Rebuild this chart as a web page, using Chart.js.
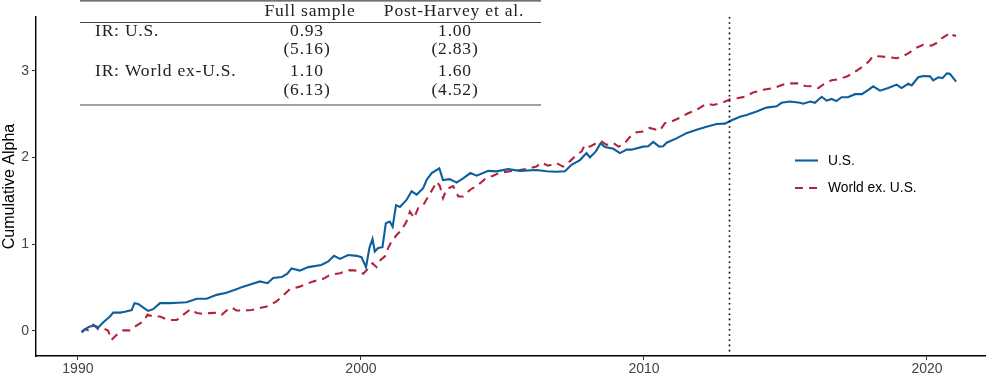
<!DOCTYPE html>
<html><head><meta charset="utf-8">
<script src="https://cdn.jsdelivr.net/npm/chart.js@4.4.1/dist/chart.umd.min.js"></script>
<style>html,body{margin:0;padding:0;background:#fff;overflow:hidden}#wrap{width:1000px;height:374px;position:relative}</style>
</head><body><div id="wrap"><canvas id="c" width="1000" height="374"></canvas></div>
<script>
const usYears=[1990.13,1990.3,1990.42,1990.6,1990.72,1990.9,1991.13,1991.25,1991.5,1991.66,1991.9,1992.0,1992.13,1992.3,1992.48,1992.66,1992.9,1993.25,1993.55,1993.84,1994.2,1994.55,1994.9,1995.25,1995.6,1995.84,1996.14,1996.43,1996.7,1996.9,1997.2,1997.4,1997.55,1997.84,1998.14,1998.6,1998.85,1999.05,1999.26,1999.55,1999.85,2000.02,2000.18,2000.3,2000.41,2000.49,2000.61,2000.76,2000.88,2001.02,2001.12,2001.24,2001.38,2001.61,2001.79,2001.97,2002.2,2002.32,2002.5,2002.77,2002.9,2003.14,2003.38,2003.61,2003.87,2004.09,2004.5,2004.79,2005.2,2005.62,2006.2,2006.56,2006.91,2007.21,2007.44,2007.74,2007.97,2008.09,2008.3,2008.47,2008.62,2008.92,2009.15,2009.39,2009.56,2009.97,2010.15,2010.33,2010.54,2010.68,2010.8,2011.15,2011.5,2011.86,2012.21,2012.57,2012.86,2013.04,2013.39,2013.63,2013.98,2014.33,2014.69,2014.86,2015.16,2015.51,2015.63,2015.87,2016.04,2016.28,2016.45,2016.63,2016.8,2016.98,2017.21,2017.46,2017.7,2017.93,2018.1,2018.34,2018.63,2018.93,2019.1,2019.34,2019.46,2019.69,2019.87,2020.11,2020.22,2020.4,2020.55,2020.7,2020.81,2020.93,2021.03];
const usValues=[-0.02,0.03,0.05,0.06,0.04,0.10,0.165,0.21,0.21,0.22,0.24,0.32,0.31,0.27,0.23,0.25,0.32,0.32,0.325,0.33,0.37,0.37,0.415,0.44,0.48,0.51,0.54,0.57,0.55,0.61,0.62,0.66,0.72,0.695,0.735,0.76,0.80,0.865,0.83,0.875,0.865,0.85,0.735,0.955,1.06,0.915,0.955,0.965,1.24,1.26,1.20,1.45,1.43,1.51,1.61,1.57,1.645,1.74,1.82,1.875,1.74,1.75,1.71,1.76,1.82,1.79,1.845,1.84,1.865,1.845,1.855,1.84,1.835,1.84,1.915,1.97,2.05,2.00,2.07,2.165,2.12,2.10,2.05,2.09,2.09,2.125,2.13,2.18,2.125,2.13,2.17,2.22,2.28,2.32,2.355,2.385,2.39,2.42,2.47,2.49,2.53,2.575,2.59,2.63,2.645,2.63,2.62,2.645,2.63,2.70,2.655,2.675,2.65,2.695,2.695,2.73,2.73,2.78,2.82,2.77,2.80,2.84,2.80,2.85,2.83,2.925,2.94,2.935,2.89,2.925,2.915,2.97,2.965,2.915,2.875];
const worldYears=[1990.13,1990.25,1990.36,1990.54,1990.72,1990.9,1991.07,1991.19,1991.37,1991.6,1991.84,1992.07,1992.31,1992.46,1992.66,1992.9,1993.19,1993.49,1993.72,1993.98,1994.2,1994.43,1994.66,1994.9,1995.08,1995.25,1995.43,1995.6,1995.84,1996.14,1996.37,1996.67,1997.02,1997.49,1997.84,1998.31,1998.67,1998.9,1999.26,1999.61,1999.85,2000.08,2000.26,2000.41,2000.55,2000.7,2000.85,2000.96,2001.08,2001.26,2001.44,2001.61,2001.73,2001.88,2002.02,2002.2,2002.38,2002.55,2002.68,2002.79,2002.9,2003.03,2003.26,2003.44,2003.61,2003.85,2004.15,2004.38,2004.67,2004.91,2005.27,2005.62,2005.97,2006.2,2006.38,2006.61,2006.91,2007.14,2007.38,2007.62,2007.8,2007.91,2008.09,2008.32,2008.5,2008.68,2008.92,2009.1,2009.27,2009.5,2009.74,2009.97,2010.2,2010.44,2010.56,2010.74,2010.97,2011.26,2011.56,2011.86,2012.21,2012.45,2012.8,2013.04,2013.33,2013.57,2013.86,2014.22,2014.57,2014.92,2015.16,2015.51,2015.69,2015.98,2016.16,2016.33,2016.63,2016.92,2017.21,2017.51,2017.74,2017.95,2018.1,2018.39,2018.69,2018.93,2019.16,2019.34,2019.58,2019.87,2020.16,2020.34,2020.52,2020.7,2020.81,2020.93,2021.03];
const worldValues=[-0.01,0.02,0.01,0.07,0.02,0.03,0.00,-0.105,-0.045,0.005,0.005,0.06,0.11,0.185,0.165,0.165,0.125,0.125,0.185,0.25,0.205,0.195,0.205,0.21,0.185,0.235,0.27,0.235,0.235,0.24,0.26,0.28,0.34,0.48,0.51,0.57,0.60,0.645,0.665,0.70,0.695,0.66,0.72,0.78,0.735,0.82,0.86,0.955,1.03,1.105,1.165,1.26,1.375,1.30,1.415,1.45,1.55,1.645,1.72,1.67,1.53,1.635,1.67,1.55,1.55,1.625,1.685,1.75,1.79,1.825,1.84,1.855,1.875,1.895,1.94,1.905,1.935,1.895,1.955,2.03,2.07,2.145,2.125,2.165,2.185,2.145,2.165,2.125,2.145,2.235,2.29,2.30,2.34,2.32,2.31,2.395,2.415,2.455,2.51,2.55,2.62,2.605,2.635,2.67,2.685,2.70,2.75,2.78,2.80,2.84,2.855,2.855,2.825,2.82,2.80,2.84,2.89,2.905,2.94,3.00,3.05,3.11,3.17,3.165,3.155,3.145,3.17,3.20,3.26,3.30,3.29,3.32,3.375,3.41,3.44,3.41,3.40];
const seriesLabels=['U.S.','World ex. U.S.'];
const xTickValues=[1990,2000,2010,2020];
const yTickValues=[0,1,2,3];
const harveyYear=2013;
const tableColumns=['Full sample','Post-Harvey et al.'];
const tableRowLabels=['IR: U.S.','','IR: World ex-U.S.',''];
const tableFull=['0.93','(5.16)','1.10','(6.13)'];
const tablePost=['1.00','(2.83)','1.60','(4.52)'];

const SANS='"Liberation Sans", Arial, Helvetica, sans-serif';
const SERIF='"Liberation Serif", "Times New Roman", serif';

const extras={
  id:'extras',
  afterDatasetsDraw(chart){
    const ctx=chart.ctx, a=chart.chartArea, xs=chart.scales.x;
    const vx=Math.round(xs.getPixelForValue(harveyYear))+0.5;
    ctx.save();
    ctx.strokeStyle='#000';ctx.lineWidth=1.6;ctx.setLineDash([1.6,3.6]);
    ctx.beginPath();ctx.moveTo(vx,a.top);ctx.lineTo(vx,a.bottom);ctx.stroke();
    ctx.restore();
  },
  afterDraw(chart){
    const ctx=chart.ctx;
    ctx.save();
    const ly=[160.5,188];
    chart.data.datasets.forEach((ds,i)=>{
      ctx.strokeStyle=ds.borderColor;ctx.lineWidth=2.1;
      ctx.setLineDash(ds.borderDash||[]);
      ctx.beginPath();ctx.moveTo(795,ly[i]);ctx.lineTo(818,ly[i]);ctx.stroke();
      ctx.setLineDash([]);
      ctx.fillStyle='#000';ctx.font='13.8px '+SANS;ctx.textBaseline='middle';ctx.textAlign='left';
      ctx.fillText(ds.label,828,ly[i]+0.5);
    });
    ctx.restore();
    ctx.save();
    ctx.strokeStyle='#444';ctx.lineWidth=1.2;
    [0.8,22.5,105].forEach(y=>{ctx.beginPath();ctx.moveTo(80,y);ctx.lineTo(541,y);ctx.stroke();});
    ctx.fillStyle='#222';ctx.font='17.5px '+SERIF;
    try{ctx.letterSpacing='0.8px';}catch(e){}
    ctx.textBaseline='alphabetic';
    ctx.textAlign='center';
    ctx.fillText(tableColumns[0],310,15.5);
    ctx.fillText(tableColumns[1],454,15.5);
    const base=[36,54,76,94.5];
    tableRowLabels.forEach((lab,i)=>{
      ctx.textAlign='left';
      if(lab) ctx.fillText(lab,95,base[i]);
      ctx.textAlign='center';
      ctx.fillText(tableFull[i],307,base[i]);
      ctx.fillText(tablePost[i],455,base[i]);
    });
    ctx.restore();
  }
};

new Chart(document.getElementById('c'),{
  type:'line',
  data:{datasets:[
    {label:seriesLabels[0],data:usYears.map((x,i)=>({x,y:usValues[i]})),borderColor:'#0d5f9c',borderWidth:2.1,pointRadius:0,tension:0,fill:false},
    {label:seriesLabels[1],data:worldYears.map((x,i)=>({x,y:worldValues[i]})),borderColor:'#b3243a',borderWidth:2.1,borderDash:[8,6],pointRadius:0,tension:0,fill:false}
  ]},
  options:{
    responsive:false,animation:false,devicePixelRatio:1,
    layout:{padding:{left:0,right:15,top:17,bottom:0}},
    plugins:{legend:{display:false},tooltip:{enabled:false}},
    scales:{
      x:{type:'linear',min:1988.52,max:2022.05,
        afterBuildTicks:s=>{s.ticks=xTickValues.map(v=>({value:v}));},
        afterFit:s=>{s.height=18;},
        border:{display:true,color:'#000',width:1.4},
        grid:{display:true,drawOnChartArea:false,drawTicks:true,tickLength:4,tickColor:'#333',tickWidth:1},
        ticks:{color:'#444',font:{family:SANS,size:14},padding:1,maxRotation:0,autoSkip:false,callback:v=>String(v)}
      },
      y:{type:'linear',min:-0.29,max:3.62,
        afterBuildTicks:s=>{s.ticks=yTickValues.map(v=>({value:v}));},
        afterFit:s=>{s.width=36;},
        border:{display:true,color:'#000',width:1.4},
        grid:{display:true,drawOnChartArea:false,drawTicks:true,tickLength:4,tickColor:'#333',tickWidth:1},
        ticks:{color:'#444',font:{family:SANS,size:14},padding:3,callback:v=>String(v)},
        title:{display:true,text:'Cumulative Alpha',color:'#000',font:{family:SANS,size:16},padding:{top:0,bottom:0}}
      }
    }
  },
  plugins:[extras]
});
</script></body></html>
